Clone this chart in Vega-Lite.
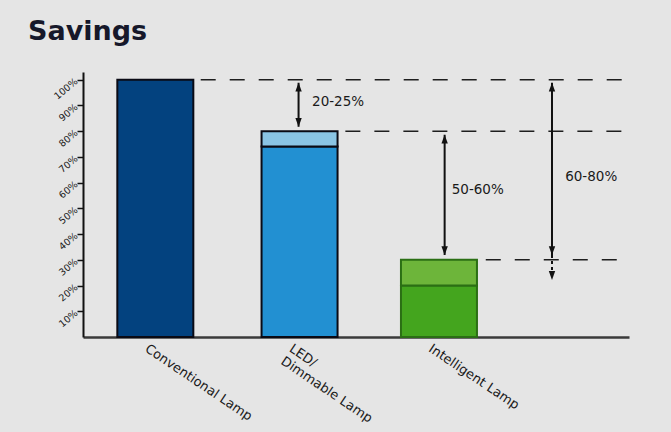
{
  "$schema": "https://vega.github.io/schema/vega-lite/v6.json",
  "width": 546,
  "height": 265,
  "autosize": {"type": "none"},
  "padding": {"left": 83, "top": 72, "right": 42, "bottom": 95},
  "background": "#e5e5e5",
  "title": {
    "text": "Savings",
    "anchor": "start",
    "frame": "group",
    "dx": -55,
    "offset": 26,
    "fontSize": 27,
    "fontWeight": "bold",
    "font": "DejaVu Sans",
    "color": "#16182a"
  },
  "config": {
    "view": {"stroke": null},
    "font": "DejaVu Sans",
    "axisY": {
      "grid": false,
      "ticks": true,
      "domainColor": "#111111",
      "domainWidth": 2,
      "tickColor": "#111111",
      "tickOpacity": 1,
      "tickWidth": 1.5,
      "tickSize": 6,
      "labelAngle": -40,
      "labelAlign": "right",
      "labelBaseline": "middle",
      "labelFontSize": 9.5,
      "labelColor": "#1a1a1a",
      "labelPadding": 1,
      "labelOverlap": false,
      "labelFlush": false
    },
    "axisX": {
      "grid": false,
      "ticks": false,
      "domainColor": "#3a3a3a",
      "domainWidth": 2.5,
      "labelAngle": 34,
      "labelAlign": "left",
      "labelBaseline": "top",
      "labelFontSize": 13,
      "labelColor": "#1a1a1a",
      "labelPadding": 5,
      "labelOffset": -6,
      "labelFlush": false,
      "labelOverlap": false
    }
  },
  "datasets": {
    "bars": [
      {"lamp": "Conventional Lamp", "pos": 0.51, "low": 0, "high": 100, "part": "conventional"},
      {"lamp": "LED/ Dimmable Lamp", "pos": 1.527, "low": 0, "high": 74, "part": "led"},
      {"lamp": "LED/ Dimmable Lamp", "pos": 1.527, "low": 74, "high": 80, "part": "led top"},
      {"lamp": "Intelligent Lamp", "pos": 2.51, "low": 0, "high": 20, "part": "intelligent"},
      {"lamp": "Intelligent Lamp", "pos": 2.51, "low": 20, "high": 30, "part": "intelligent top"}
    ],
    "levels": [
      {"level": 100, "from": 0.83, "to": 3.85},
      {"level": 80, "from": 1.85, "to": 3.85},
      {"level": 30, "from": 2.84, "to": 3.85}
    ],
    "arrows": [
      {"pos": 1.52, "top": 98.8, "bottom": 81.7, "kind": "solid"},
      {"pos": 2.55, "top": 78.6, "bottom": 31.9, "kind": "solid"},
      {"pos": 3.307, "top": 98.8, "bottom": 31.9, "kind": "solid"},
      {"pos": 3.307, "top": 31.9, "bottom": 23.5, "kind": "dotted"}
    ],
    "heads": [
      {"pos": 1.52, "tip": 98.8, "dir": "up"},
      {"pos": 1.52, "tip": 81.7, "dir": "down"},
      {"pos": 2.55, "tip": 78.6, "dir": "up"},
      {"pos": 2.55, "tip": 31.9, "dir": "down"},
      {"pos": 3.307, "tip": 98.8, "dir": "up"},
      {"pos": 3.307, "tip": 31.9, "dir": "down"},
      {"pos": 3.307, "tip": 22.2, "dir": "down"}
    ],
    "notes": [
      {"pos": 1.615, "level": 91.2, "note": "20-25%"},
      {"pos": 2.6, "level": 57.2, "note": "50-60%"},
      {"pos": 3.4, "level": 62.3, "note": "60-80%"}
    ]
  },
  "layer": [
    {
      "data": {"name": "bars"},
      "mark": {"type": "bar", "width": 76, "strokeWidth": 2},
      "encoding": {
        "x": {
          "field": "pos",
          "type": "quantitative",
          "scale": {"domain": [0, 3.85], "nice": false, "zero": false, "padding": 0},
          "axis": {
            "values": [0.51, 1.527, 2.51],
            "tickCount": 10,
            "title": null,
            "labelExpr": "datum.value < 1 ? 'Conventional Lamp' : datum.value < 2 ? ['LED/', 'Dimmable Lamp'] : 'Intelligent Lamp'"
          }
        },
        "y": {
          "field": "high",
          "type": "quantitative",
          "scale": {"domain": [0, 103], "nice": false, "padding": 0},
          "axis": {
            "values": [10, 20, 30, 40, 50, 60, 70, 80, 90, 100],
            "tickCount": 12,
            "title": null,
            "ticks": true,
            "tickSize": 6,
            "labelOverlap": false,
            "labelExpr": "datum.value + '%'"
          }
        },
        "y2": {"field": "low", "title": null},
        "color": {
          "field": "part",
          "type": "nominal",
          "legend": null,
          "scale": {
            "domain": ["conventional", "led", "led top", "intelligent", "intelligent top"],
            "range": ["#03427f", "#2290d2", "#8ac4e4", "#44a51e", "#6db53a"]
          }
        },
        "stroke": {
          "field": "part",
          "type": "nominal",
          "legend": null,
          "scale": {
            "domain": ["conventional", "led", "led top", "intelligent", "intelligent top"],
            "range": ["#0a0a14", "#0a0a14", "#0a0a14", "#2b6f14", "#2b6f14"]
          }
        }
      }
    },
    {
      "data": {"name": "levels"},
      "mark": {"type": "rule", "strokeDash": [15, 14], "strokeWidth": 1.5, "color": "#1e1e1e"},
      "encoding": {
        "x": {"field": "from", "type": "quantitative", "axis": {"title": null}},
        "x2": {"field": "to", "title": null},
        "y": {"field": "level", "type": "quantitative", "axis": {"title": null}}
      }
    },
    {
      "data": {"name": "arrows"},
      "mark": {"type": "rule", "strokeWidth": 2, "color": "#111111"},
      "encoding": {
        "x": {"field": "pos", "type": "quantitative", "axis": {"title": null}},
        "y": {"field": "top", "type": "quantitative", "axis": {"title": null}},
        "y2": {"field": "bottom", "title": null},
        "strokeDash": {
          "field": "kind",
          "type": "nominal",
          "legend": null,
          "scale": {"domain": ["solid", "dotted"], "range": [[1, 0], [3, 3]]}
        }
      }
    },
    {
      "data": {"name": "heads"},
      "mark": {"type": "point", "filled": true, "opacity": 1, "color": "#111111", "size": 64},
      "encoding": {
        "x": {"field": "pos", "type": "quantitative", "axis": {"title": null}},
        "y": {"field": "tip", "type": "quantitative", "axis": {"title": null}},
        "shape": {
          "field": "dir",
          "type": "nominal",
          "legend": null,
          "scale": {
            "domain": ["up", "down"],
            "range": ["M0,0L-0.8,2.2L0.8,2.2Z", "M0,0L-0.8,-2.2L0.8,-2.2Z"]
          }
        }
      }
    },
    {
      "data": {"name": "notes"},
      "mark": {"type": "text", "align": "left", "baseline": "middle", "fontSize": 13.5, "color": "#1a1a1a"},
      "encoding": {
        "x": {"field": "pos", "type": "quantitative", "axis": {"title": null}},
        "y": {"field": "level", "type": "quantitative", "axis": {"title": null}},
        "text": {"field": "note"}
      }
    }
  ]
}
